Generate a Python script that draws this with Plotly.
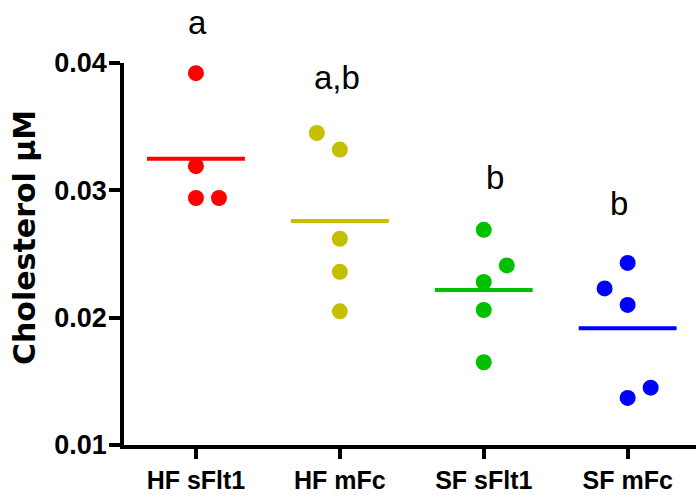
import numpy as np
import plotly.graph_objects as go

# ---- data ----
categories = ["HF sFlt1", "HF mFc", "SF sFlt1", "SF mFc"]
hf_sflt1 = [0.0392, 0.0319, 0.0294, 0.0294]
hf_mfc = [0.0345, 0.0332, 0.0262, 0.0236, 0.0205]
sf_sflt1 = [0.0269, 0.0241, 0.0228, 0.0206, 0.0165]
sf_mfc = [0.0243, 0.0223, 0.0210, 0.0145, 0.0137]
sig_letters = ["a", "a,b", "b", "b"]
y_ticks = [0.01, 0.02, 0.03, 0.04]

# ---- styling / layout ----
series = [hf_sflt1, hf_mfc, sf_sflt1, sf_mfc]
colors = ["#ff0000", "#c4bf00", "#00c000", "#0000ff"]
jitter = [
    [0, 0, 0, 0.16],
    [-0.16, 0, 0, 0, 0],
    [0, 0.16, 0, 0, 0],
    [0, -0.16, 0, 0.16, 0],
]
# letter anchor positions: (x offset from category, pixel y from top)
letter_pos = [(0.01, 22), (-0.02, 78), (0.08, 177), (-0.06, 203)]
half_w = 0.34

L, R, T, B = 124, 0, 63, 50
W, H = 696, 495
pw, ph = W - L - R, H - T - B

fig = go.Figure()
for i, (vals, col, jit) in enumerate(zip(series, colors, jitter)):
    xs = [i + j for j in jit]
    fig.add_trace(go.Scatter(
        x=xs, y=vals, mode="markers",
        marker=dict(size=16, color=col, line=dict(width=0)),
        showlegend=False, cliponaxis=False))
    m = float(np.mean(vals))
    fig.add_trace(go.Scatter(
        x=[i - half_w, i + half_w], y=[m, m], mode="lines",
        line=dict(color=col, width=4), showlegend=False, cliponaxis=False))

for i, lab in enumerate(sig_letters):
    dx, py = letter_pos[i]
    fig.add_annotation(x=i + dx, xref="x", y=(H - B - py) / ph, yref="paper",
                       text=lab, showarrow=False,
                       font=dict(family="Liberation Sans, Arial", size=33, color="black"),
                       xanchor="center", yanchor="middle")

fig.add_annotation(
    xref="paper", yref="paper",
    x=(25 - L) / pw, y=(H - B - 238) / ph,
    text="Cholesterol μM", textangle=-90, showarrow=False,
    font=dict(family="DejaVu Sans", size=30, color="black", weight="bold"),
    xanchor="center", yanchor="middle")

fig.update_layout(
    width=W, height=H,
    margin=dict(l=L, r=R, t=T, b=B),
    plot_bgcolor="white", paper_bgcolor="white",
    xaxis=dict(
        range=[-0.5, 3.475], tickmode="array",
        tickvals=list(range(len(categories))), ticktext=categories,
        showline=True, linecolor="black", linewidth=3.5,
        ticks="outside", ticklen=10, tickwidth=3.5, tickcolor="black",
        showgrid=False, zeroline=False,
        tickfont=dict(family="Liberation Sans, Arial", size=25, color="black", weight="bold"),
    ),
    yaxis=dict(
        range=[0.01, 0.04], tickmode="array",
        tickvals=y_ticks, ticktext=[f"{v:.2f}" for v in y_ticks],
        showline=True, linecolor="black", linewidth=3.5,
        ticks="outside", ticklen=11, tickwidth=3.5, tickcolor="black",
        showgrid=False, zeroline=False, ticklabelstandoff=-3,
        tickfont=dict(family="Liberation Sans, Arial", size=27, color="black", weight="bold"),
    ),
)

fig.write_html("out.html")
